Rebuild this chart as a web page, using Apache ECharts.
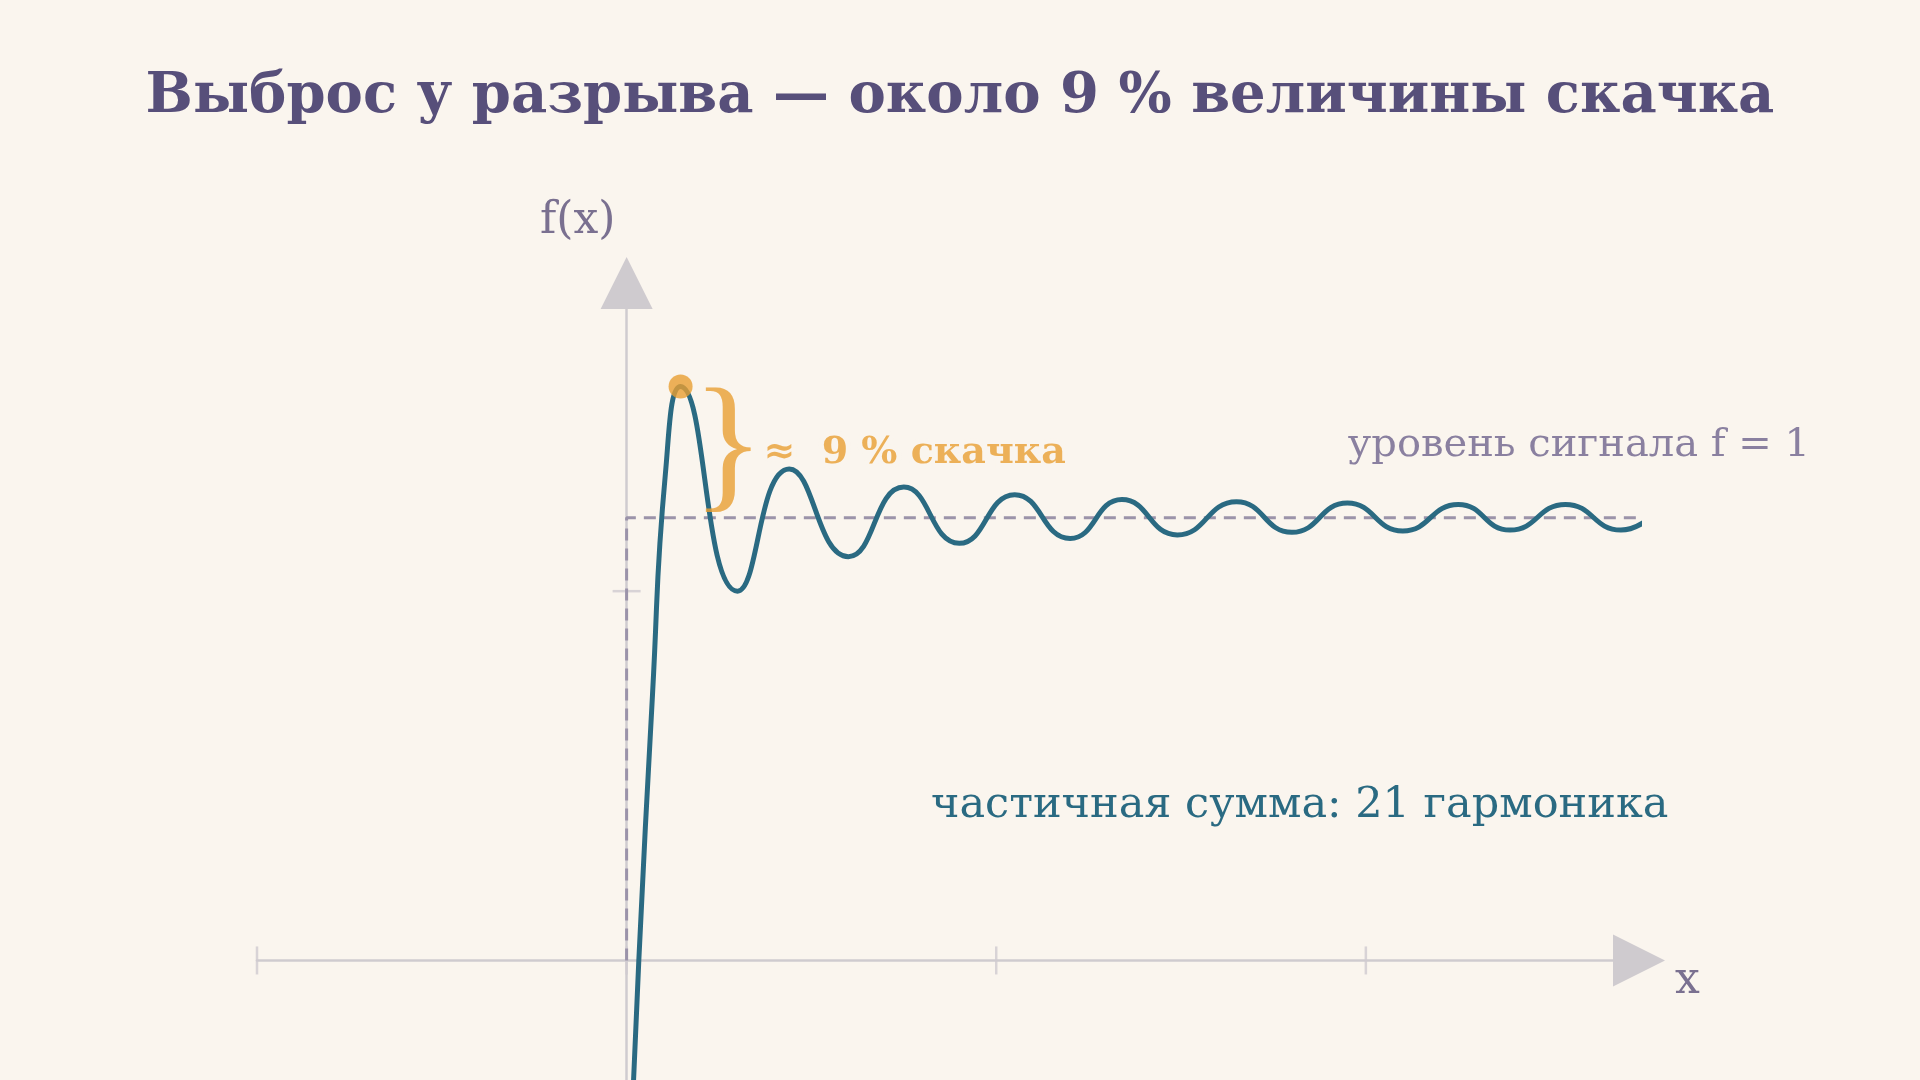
<!DOCTYPE html>
<html><head><meta charset="utf-8">
<script src="https://cdn.jsdelivr.net/npm/echarts@6/dist/echarts.min.js"></script>
<style>html,body{margin:0;background:#faf5ee}#c{width:1920px;height:1080px}</style>
</head><body><div id="c"></div>
<script>
const curveX = [0.012,0.033,0.07,0.105,0.146,0.30,0.44,0.60,0.75,0.90,1.05,1.20,1.34,1.49,1.65,1.80,1.95,2.10,2.25,2.39,2.54,2.69,2.79];
const curveY = [-0.40,0,0.60,1.10,1.296,0.834,1.11,0.912,1.069,0.942,1.052,0.953,1.041,0.961,1.036,0.967,1.033,0.970,1.030,0.972,1.030,0.972,1.014];
const levelX = [0,0,2.79];
const levelY = [0,1,1];
const xTicks = [-1,0,1,2];
const peak = [0.146,1.296];
const yTick = 0.834;
const bg = '#faf5ee', axisC = '#cfcbcf', curveC = '#2a6a82', orange = '#e89f32';
const chart = echarts.init(document.getElementById('c'));
chart.setOption({
  backgroundColor: bg, animation: false,
  title: {text:'Выброс у разрыва — около 9 % величины скачка', left:'center', top:64,
    textStyle:{fontFamily:'DejaVu Serif', fontWeight:'bold', fontSize:56, color:'#574f7a'}},
  grid: {left:257, width:1382, top:283, height:798},
  xAxis: {type:'value', min:-1, max:2.739, splitLine:{show:false}, axisLabel:{show:false}, axisTick:{show:false},
    axisLine:{onZero:true, lineStyle:{color:axisC,width:2.5}, symbol:['none','triangle'], symbolSize:[52,52]}},
  yAxis: {type:'value', min:-0.27, max:1.53, splitLine:{show:false}, axisLabel:{show:false}, axisTick:{show:false},
    axisLine:{onZero:true, lineStyle:{color:axisC,width:2.5}, symbol:['none','triangle'], symbolSize:[52,52]}},
  series: [
    {type:'line', data: levelX.map((x,i)=>[x,levelY[i]]), symbol:'none', lineStyle:{color:'#9b93a9',width:3,type:[12,8]}, z:2},
    {type:'scatter', data: xTicks.map(x=>[x,0]), symbol:'rect', symbolSize:[2.5,28], itemStyle:{color:axisC}, z:1},
    {type:'scatter', data: [[0,yTick]], symbol:'rect', symbolSize:[28,2.5], itemStyle:{color:axisC}, z:1},
    {type:'line', data: curveX.map((x,i)=>[x,curveY[i]]), symbol:'none', smooth:0.5, lineStyle:{color:curveC,width:5}, z:3},
    {type:'scatter', data:[peak], symbolSize:24, itemStyle:{color:orange}, z:5},
    {type:'scatter', data:[[0.275,1.146]], symbolSize:0, z:4, label:{show:true, formatter:'}', position:'inside',
      fontFamily:'Liberation Serif', fontSize:150, color:orange, fontWeight:'normal'}},
    {type:'scatter', data:[[0.37,1.146]], symbolSize:0, z:6, label:{show:true, formatter:'≈  9 % скачка', position:'right', distance:0,
      fontFamily:'DejaVu Serif', fontSize:38, fontWeight:'bold', color:orange, textBorderColor:bg, textBorderWidth:10}}
  ],
  graphic: [
    {type:'text', left:540, top:200, style:{text:'f(x)', font:'44px "DejaVu Serif"', fill:'#7a7090'}},
    {type:'text', left:1675, top:960, style:{text:'x', font:'44px "DejaVu Serif"', fill:'#7a7090'}},
    {type:'text', right:110, top:426, style:{text:'уровень сигнала f = 1', font:'40px "DejaVu Serif"', fill:'#8a80a0'}},
    {type:'text', left:931, top:784, style:{text:'частичная сумма: 21 гармоника', font:'43px "DejaVu Serif"', fill:curveC}}
  ]
});
</script></body></html>
